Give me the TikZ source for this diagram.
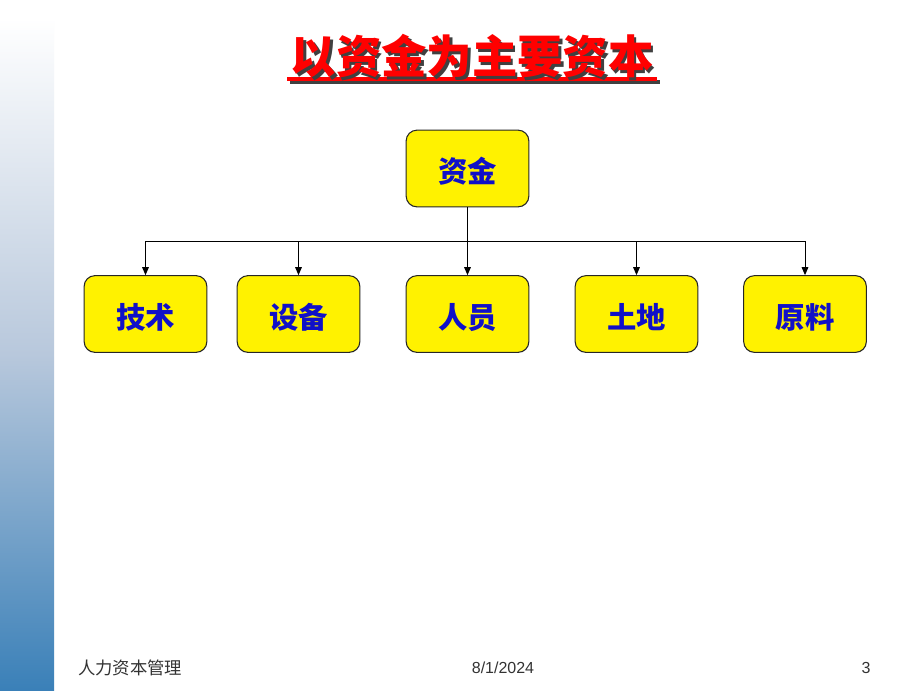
\documentclass[tikz,border=0pt]{standalone}
\usepackage{fontspec}
\setmainfont{Liberation Sans}
\newfontfamily\cjk{Noto Sans CJK SC}
\usetikzlibrary{arrows.meta}
\definecolor{boxblue}{HTML}{1010C8}
\definecolor{barbot}{HTML}{3A80B8}
\definecolor{barmid}{HTML}{B8C8DC}
\newcommand{\boxlbl}[1]{\raisebox{-10.6pt}[0pt][0pt]{#1}}
\tikzset{
  box/.style={draw=black!85, line width=0.8pt, fill=yellow, rounded corners=8pt,
    minimum width=92pt, minimum height=57.5pt, inner sep=0pt,
    text=boxblue, font=\cjk\bfseries\fontsize{22}{24}\selectfont},
  link/.style={line width=0.7pt, draw=black},
  arr/.style={link, -{Triangle[length=6pt,width=5pt]}},
  foot/.style={text=black!80, font=\fontsize{12}{14}\selectfont, inner sep=0pt}
}
\begin{document}
\begin{tikzpicture}[x=0.75pt,y=-0.75pt]
\useasboundingbox (0,0) rectangle (920,690);
\fill[white] (0,0) rectangle (920,690);
% left gradient bar
\shade[top color=white, bottom color=barbot, middle color=barmid] (0,18) rectangle (54,690);
% title underline with shadow
\fill[black!75] (290,80) rectangle (660,84);
\fill[red] (287,77) rectangle (657,81);
% title with shadow (one node)
\node[font=\cjk\bfseries\fontsize{34}{40}\selectfont, inner sep=0pt] (title) at (472,58)
  {\rlap{\hspace{2.2pt}\raisebox{-2.2pt}{\color{black!75}以资金为主要资本}}\color{red}以资金为主要资本};
% boxes
\node[box] (zj) at (467.5,168.5) {\boxlbl{资金}};
\node[box] (js) at (145.5,314) {\boxlbl{技术}};
\node[box] (sb) at (298.5,314) {\boxlbl{设备}};
\node[box] (ry) at (467.5,314) {\boxlbl{人员}};
\node[box] (td) at (636.5,314) {\boxlbl{土地}};
\node[box] (yl) at (805,314) {\boxlbl{原料}};
\coordinate (bus) at (467.5,241);
\draw[link] (zj.south) -- (zj.south |- bus);
\draw[link] (js.north |- bus) -- (yl.north |- bus);
\foreach \n in {js,sb,ry,td,yl} \draw[arr] (\n.north |- bus) -- (\n.north);
% footer
\node[foot, anchor=west] (f1) at (78,668) {\cjk\fontsize{13}{15}\selectfont 人力资本管理};
\node[foot] (f2) at (503,668) {8/1/2024};
\node[foot] (f3) at (866,668) {3};
\end{tikzpicture}
\end{document}
